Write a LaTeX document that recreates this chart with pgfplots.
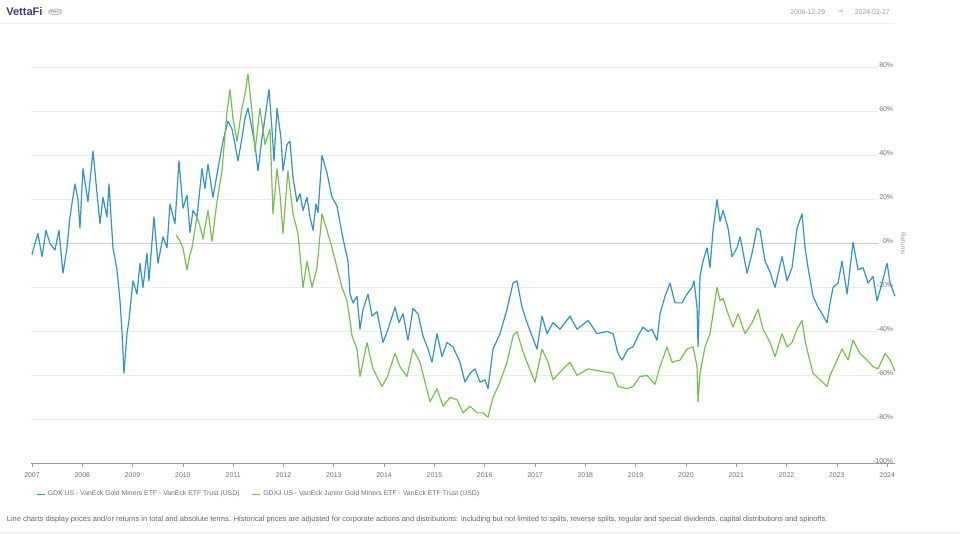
\documentclass[border=0pt]{standalone}
\usepackage{fontspec}
\setmainfont{Liberation Sans}
\newfontfamily\djv{DejaVu Sans}
\usepackage{pgfplots}
\pgfplotsset{compat=1.18}
\usepackage{pgfplotstable}

\definecolor{gdxblue}{HTML}{3094C4}
\definecolor{gdxjgreen}{HTML}{76C052}
\definecolor{txtgray}{HTML}{707070}
\definecolor{lightgray}{HTML}{9A9A9A}
\definecolor{gridgray}{HTML}{ECECEC}
\definecolor{zerogray}{HTML}{CDCDCD}
\definecolor{vfpurple}{HTML}{3E3C72}

% GDX: cumulative return (%) since 2006-12-29
\pgfplotstableread{
t v
2007.000 -5
2007.060 0
2007.119 4.5
2007.199 -6
2007.278 6
2007.358 0
2007.457 -3
2007.537 6
2007.616 -13.5
2007.696 -2
2007.755 12
2007.855 27
2007.915 20
2007.954 7
2008.014 34
2008.113 19
2008.213 42
2008.292 23
2008.352 9
2008.412 21
2008.491 12
2008.531 27
2008.610 -2
2008.690 -12
2008.750 -26
2008.789 -40
2008.829 -59
2008.889 -41
2008.928 -35
2009.008 -17
2009.087 -23
2009.147 -9
2009.207 -20
2009.286 -4.5
2009.326 -17
2009.425 12
2009.505 -9
2009.604 3
2009.684 -2
2009.744 18
2009.843 9
2009.922 37.5
2010.002 16
2010.082 22
2010.141 5
2010.201 15
2010.280 12
2010.380 34
2010.439 25
2010.499 36
2010.598 21
2010.698 34
2010.797 46.5
2010.897 55.6
2010.976 52
2011.036 45
2011.095 37.5
2011.175 48
2011.235 57
2011.294 61.5
2011.374 52
2011.433 45
2011.493 33
2011.573 48
2011.632 57
2011.712 70
2011.771 52
2011.811 37.5
2011.871 61.5
2011.950 48
2011.990 33
2012.070 45
2012.129 46.5
2012.189 30
2012.268 19
2012.328 22.6
2012.388 15
2012.467 21
2012.527 12
2012.587 6
2012.646 18
2012.686 14
2012.765 40
2012.865 32
2012.964 21
2013.064 17
2013.163 4.5
2013.223 -2
2013.282 -8
2013.322 -23
2013.382 -27
2013.461 -24
2013.521 -39
2013.581 -30
2013.680 -23
2013.760 -33
2013.859 -31
2013.978 -45
2014.078 -39
2014.217 -29
2014.296 -36
2014.376 -32
2014.475 -44
2014.575 -29.5
2014.674 -32
2014.773 -42
2014.873 -48
2014.952 -54
2015.052 -41
2015.151 -51.5
2015.250 -45
2015.370 -47
2015.509 -54
2015.608 -63
2015.708 -59
2015.807 -57
2015.907 -63
2016.006 -62
2016.066 -66
2016.165 -48
2016.304 -41
2016.443 -30
2016.563 -18
2016.642 -17
2016.742 -29
2016.841 -36
2016.940 -42
2017.040 -48
2017.139 -33
2017.239 -41
2017.358 -36
2017.497 -39
2017.696 -33
2017.835 -39
2018.054 -35
2018.233 -41
2018.431 -40
2018.551 -41
2018.650 -50
2018.730 -53
2018.849 -48
2018.948 -47
2019.048 -42
2019.147 -38
2019.247 -40
2019.326 -39
2019.425 -44
2019.485 -32
2019.584 -24
2019.684 -18
2019.783 -27
2019.922 -27
2020.022 -23
2020.121 -20
2020.161 -17
2020.221 -29
2020.241 -47
2020.280 -15
2020.340 -8
2020.420 -2
2020.479 -11
2020.539 6
2020.618 20
2020.678 10
2020.738 15
2020.837 7
2020.917 -6
2021.016 -2
2021.076 3
2021.215 -13.5
2021.314 -4.5
2021.414 7
2021.473 6
2021.573 -8
2021.672 -13
2021.771 -20
2021.911 -6
2022.010 -17
2022.109 -11
2022.209 7
2022.308 13.5
2022.368 -2
2022.427 -11
2022.527 -24
2022.626 -29
2022.706 -32
2022.805 -36
2022.865 -27
2022.924 -20
2023.024 -18
2023.103 -8
2023.203 -23
2023.322 0.5
2023.421 -12
2023.521 -11
2023.620 -18
2023.720 -15
2023.799 -26
2023.899 -18
2023.998 -9
2024.058 -18
2024.157 -24
}\gdx

% GDXJ: cumulative return (%)
\pgfplotstableread{
t v
2009.863 4
2009.942 1
2010.002 -2
2010.082 -12
2010.141 -5
2010.181 -2
2010.280 12
2010.340 8
2010.400 2
2010.499 15
2010.579 1
2010.678 19
2010.777 33
2010.877 60
2010.936 70
2010.996 57
2011.076 46.5
2011.175 61.5
2011.235 68
2011.294 77
2011.374 60
2011.433 42
2011.533 61.5
2011.632 45
2011.732 52
2011.791 13.5
2011.871 34
2011.930 22.6
2011.990 4.5
2012.089 33
2012.189 13.5
2012.288 4.5
2012.388 -20
2012.467 -8
2012.567 -20
2012.666 -11
2012.765 13.5
2012.865 6
2012.964 -2
2013.064 -11
2013.163 -20
2013.262 -26
2013.322 -35
2013.362 -42
2013.461 -48
2013.521 -60.5
2013.660 -45
2013.779 -57
2013.958 -65
2014.058 -61
2014.217 -50
2014.316 -56
2014.455 -60.5
2014.575 -48
2014.714 -54
2014.813 -63
2014.913 -72
2015.052 -66
2015.171 -74
2015.310 -70
2015.449 -71
2015.569 -77
2015.708 -74
2015.847 -77
2015.966 -77
2016.066 -79
2016.165 -70
2016.304 -63
2016.443 -54
2016.563 -42
2016.642 -40
2016.742 -48
2016.841 -54
2017.000 -63
2017.139 -48
2017.258 -54
2017.358 -62
2017.557 -57
2017.696 -54
2017.835 -60
2018.054 -57
2018.292 -58
2018.551 -59
2018.650 -65
2018.829 -66
2018.948 -65
2019.087 -60.5
2019.227 -60
2019.386 -64
2019.485 -56
2019.624 -47
2019.724 -54
2019.883 -53
2020.022 -48
2020.141 -47
2020.221 -56
2020.241 -72
2020.280 -59
2020.380 -47
2020.479 -41
2020.539 -32
2020.618 -20
2020.678 -26
2020.738 -25
2020.837 -32
2020.936 -38
2021.036 -32
2021.175 -41
2021.314 -36
2021.433 -30
2021.533 -39
2021.672 -45
2021.771 -51.5
2021.911 -41
2022.010 -47
2022.109 -45
2022.209 -39
2022.308 -35
2022.368 -44
2022.427 -50
2022.527 -59
2022.666 -62
2022.805 -65
2022.865 -60
2023.004 -53
2023.103 -48
2023.223 -53
2023.322 -44
2023.461 -50
2023.600 -53
2023.720 -56
2023.819 -57
2023.958 -50
2024.058 -53
2024.157 -58
}\gdxj

\begin{document}
\begin{tikzpicture}
% page is 960 x 534 px at 0.75pt per px
\useasboundingbox (0,0) rectangle (720pt,-400.5pt);

% header
\node[anchor=west, inner sep=0, font=\fontsize{8.3}{9}\selectfont\bfseries, text=vfpurple] at (4.5pt,-9pt) {VettaFi};
\node[anchor=west, draw=lightgray, rounded corners=2.2pt, line width=0.4pt, inner xsep=1.2pt, inner ysep=0.9pt,
  font=\fontsize{3.2}{3.5}\selectfont\bfseries, text=lightgray] at (36.5pt,-8.8pt) {PRO};
\node[anchor=west, inner sep=0, font=\fontsize{5.1}{6}\selectfont, text=lightgray] at (592.5pt,-9pt) {2006-12-29};
\node[anchor=west, inner sep=0, font=\fontsize{5}{6}\selectfont\djv, text=lightgray] at (628pt,-9pt) {→};
\node[anchor=west, inner sep=0, font=\fontsize{5.1}{6}\selectfont, text=lightgray] at (641pt,-9pt) {2024-02-27};
\draw[gridgray!70, line width=0.4pt] (0pt,-17.5pt) -- (671pt,-17.5pt);

\begin{axis}[
  at={(23.6pt,-347.6pt)}, anchor=south west,
  scale only axis, width=647.8pt, height=305.25pt,
  xmin=2006.99, xmax=2024.16, ymin=-100, ymax=85,
  axis x line*=bottom, axis y line*=right,
  x axis line style={draw=lightgray, line width=0.6pt, -},
  y axis line style={draw=none},
  xtick={2007,2008,...,2024},
  xtick style={draw=lightgray, line width=0.5pt},
  tick align=outside, major tick length=3pt,
  xticklabel style={/pgf/number format/1000 sep={}, font=\fontsize{5.2}{6}\selectfont, text=txtgray, yshift=-0.5pt},
  ytick={-100,-80,...,80},
  ytick style={draw=none},
  yticklabel={\pgfmathprintnumber{\tick}\%},
  yticklabel style={anchor=east, xshift=-1pt, yshift=1.8pt, font=\fontsize{5.2}{6}\selectfont, text=txtgray},
  /pgf/number format/assume math mode=true,
  clip=false,
  legend style={at={(rel axis cs:0.005,-0.076)}, anchor=west, draw=none, fill=none,
    font=\fontsize{5.15}{6}\selectfont, text=txtgray, legend columns=2,
    /tikz/every even column/.append style={column sep=7pt}, inner sep=0pt},
  legend image code/.code={\draw[#1, line width=0.8pt] (0pt,0pt) -- (6pt,0pt);},
  legend cell align=left,
]
\pgfplotsinvokeforeach{-80,-60,-40,-20,20,40,60,80}{
  \draw[gridgray, line width=0.5pt] (axis cs:2006.99,#1) -- (axis cs:2023.82,#1);
}
\draw[zerogray, line width=0.7pt] (axis cs:2006.99,0) -- (axis cs:2023.82,0);
\addplot[gdxblue, line width=0.9pt, line join=round] table[x=t, y=v] {\gdx};
\addlegendentry{GDX US - VanEck Gold Miners ETF - VanEck ETF Trust (USD)}
\addplot[gdxjgreen, line width=0.9pt, line join=round] table[x=t, y=v] {\gdxj};
\addlegendentry{GDXJ US - VanEck Junior Gold Miners ETF - VanEck ETF Trust (USD)}
\end{axis}

\node[rotate=-90, inner sep=0, font=\fontsize{4.8}{6}\selectfont, text=lightgray] at (677.5pt,-183pt) {Returns};

% footer
\node[anchor=west, inner sep=0, font=\fontsize{5.6}{7}\selectfont, text=txtgray!90!black] at (5pt,-390pt)
  {Line charts display prices and/or returns in total and absolute terms. Historical prices are adjusted for corporate actions and distributions: including but not limited to splits, reverse splits, regular and special dividends, capital distributions and spinoffs.};
\draw[gridgray, line width=0.5pt] (0pt,-399.6pt) -- (720pt,-399.6pt);
\end{tikzpicture}
\end{document}
